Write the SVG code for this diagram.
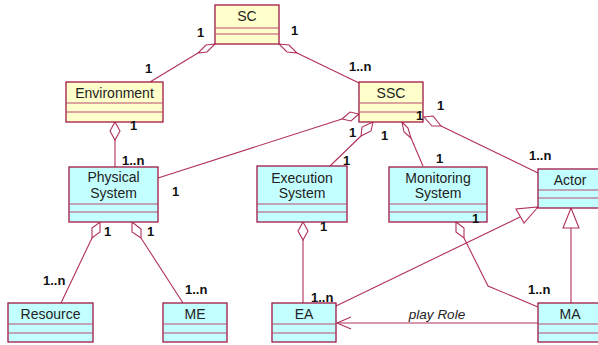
<svg xmlns="http://www.w3.org/2000/svg" width="598" height="345" viewBox="0 0 598 345">
<style>
.box{stroke:#a01845;stroke-width:1.3}
.y{fill:#ffffcc}
.c{fill:#c4ffff}
.sep{stroke:#b84a70;stroke-width:1;fill:none}
.nm{font-family:"Liberation Sans",Arial,sans-serif;font-size:14px;fill:#222;text-anchor:middle}
.m{font-family:"Liberation Sans",Arial,sans-serif;font-size:13px;font-weight:bold;fill:#111}
.ln{stroke:#b0305a;stroke-width:1.1;fill:none}
.dia{stroke:#b0305a;stroke-width:1.1;fill:#fff}
.tri{stroke:#b0305a;stroke-width:1.1;fill:#fff}
</style>
<rect width="598" height="345" fill="#fff"/>
<g id="connectors">
  <line class="ln" x1="150" y1="82" x2="198" y2="53"/>
  <polygon class="dia" points="215,44 206,45 198,53 207,52"/>
  <line class="ln" x1="297" y1="53" x2="359" y2="83"/>
  <polygon class="dia" points="279,44 289,45 297,53 287,52"/>
  <line class="ln" x1="115" y1="140" x2="115" y2="167"/>
  <polygon class="dia" points="115,122 120,131 115,140 110,131"/>
  <line class="ln" x1="158" y1="178" x2="342" y2="119"/>
  <polygon class="dia" points="359,114 350,112 342,119 351,121"/>
  <line class="ln" x1="330" y1="166" x2="361" y2="136"/>
  <polygon class="dia" points="373,122 371,131 361,136 362,127"/>
  <line class="ln" x1="423" y1="166" x2="411" y2="138"/>
  <polygon class="dia" points="402,122 408,128 411,138 404,132"/>
  <line class="ln" x1="441" y1="126" x2="538" y2="173"/>
  <polygon class="dia" points="424,117 433,116 441,126 432,126"/>
  <line class="ln" x1="303" y1="240" x2="303" y2="303"/>
  <polygon class="dia" points="303,222 308,231 303,240 298,231"/>
  <line class="ln" x1="336" y1="306" x2="520" y2="217"/>
  <polygon class="tri" points="538,207 524,223 516,209"/>
  <line class="ln" x1="571" y1="303" x2="571" y2="228"/>
  <polygon class="tri" points="571,208 579,228 563,228"/>
  <polyline class="ln" points="464,238 488,286 538,307"/>
  <polygon class="dia" points="456,222 464,228 464,238 456,232"/>
  <line class="ln" x1="337" y1="323" x2="538" y2="323"/>
  <polyline class="ln" points="351,317 337,323 351,329"/>
  <line class="ln" x1="61" y1="303" x2="92" y2="238"/>
  <polygon class="dia" points="100,222 100,232 92,238 92,228"/>
  <line class="ln" x1="183" y1="303" x2="141" y2="238"/>
  <polygon class="dia" points="132,222 141,229 141,238 132,232"/>
  <text x="437" y="319" class="nm" style="font-style:italic;font-size:13.5px">play Role</text>
</g>
<g id="SC">
  <rect class="box y" x="215" y="5" width="64" height="39"/>
  <path class="sep" d="M215,28H279M215,34H279"/>
  <text class="nm" x="247" y="21">SC</text>
</g>
<g id="Environment">
  <rect class="box y" x="66" y="82" width="97" height="40"/>
  <path class="sep" d="M66,103H163M66,112H163"/>
  <text class="nm" x="114.5" y="98">Environment</text>
</g>
<g id="SSC">
  <rect class="box y" x="359" y="82" width="64" height="40"/>
  <path class="sep" d="M359,103H423M359,112H423"/>
  <text class="nm" x="391" y="98">SSC</text>
</g>
<g id="PhysicalSystem">
  <rect class="box c" x="69" y="167" width="89" height="55"/>
  <path class="sep" d="M69,204H158M69,212H158"/>
  <text class="nm" x="113.5" y="182">Physical</text>
  <text class="nm" x="113.5" y="198">System</text>
</g>
<g id="ExecutionSystem">
  <rect class="box c" x="257" y="166" width="90" height="56"/>
  <path class="sep" d="M257,204H347M257,212H347"/>
  <text class="nm" x="302" y="183">Execution</text>
  <text class="nm" x="302" y="198">System</text>
</g>
<g id="MonitoringSystem">
  <rect class="box c" x="389" y="167" width="98" height="55"/>
  <path class="sep" d="M389,204H487M389,212H487"/>
  <text class="nm" x="438" y="183">Monitoring</text>
  <text class="nm" x="438" y="198">System</text>
</g>
<g id="Actor">
  <rect class="box c" x="538" y="169" width="64" height="39"/>
  <path class="sep" d="M538,190H602M538,198H602"/>
  <text class="nm" x="570" y="185">Actor</text>
</g>
<g id="Resource">
  <rect class="box c" x="8" y="303" width="85" height="39"/>
  <path class="sep" d="M8,324H93M8,333H93"/>
  <text class="nm" x="50.5" y="319">Resource</text>
</g>
<g id="ME">
  <rect class="box c" x="163" y="303" width="64" height="39"/>
  <path class="sep" d="M163,324H227M163,333H227"/>
  <text class="nm" x="195" y="319">ME</text>
</g>
<g id="EA">
  <rect class="box c" x="272" y="303" width="64" height="39"/>
  <path class="sep" d="M272,324H336M272,333H336"/>
  <text class="nm" x="304" y="319">EA</text>
</g>
<g id="MA">
  <rect class="box c" x="538" y="303" width="64" height="39"/>
  <path class="sep" d="M538,324H602M538,333H602"/>
  <text class="nm" x="570" y="319">MA</text>
</g>
<g id="multiplicities">
  <text class="m" x="197" y="37">1</text>
  <text class="m" x="145" y="73">1</text>
  <text class="m" x="291" y="35">1</text>
  <text class="m" x="349" y="71">1..n</text>
  <text class="m" x="130" y="130">1</text>
  <text class="m" x="122" y="165">1..n</text>
  <text class="m" x="172" y="196">1</text>
  <text class="m" x="349" y="137">1</text>
  <text class="m" x="381" y="140">1</text>
  <text class="m" x="343" y="165">1</text>
  <text class="m" x="436" y="163">1</text>
  <text class="m" x="416" y="120">1</text>
  <text class="m" x="437" y="110">1</text>
  <text class="m" x="529" y="160">1..n</text>
  <text class="m" x="320" y="231">1</text>
  <text class="m" x="311" y="302">1..n</text>
  <text class="m" x="472" y="223">1</text>
  <text class="m" x="528" y="294">1..n</text>
  <text class="m" x="104" y="236">1</text>
  <text class="m" x="147" y="236">1</text>
  <text class="m" x="43" y="285">1..n</text>
  <text class="m" x="185" y="294">1..n</text>
</g>
</svg>
